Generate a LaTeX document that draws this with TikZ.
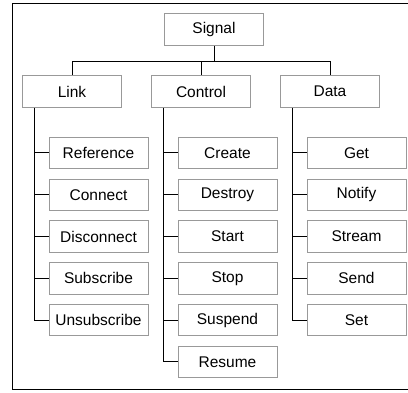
\documentclass[tikz,border=0pt]{standalone}
\usepackage{fontspec}
\setmainfont{Liberation Sans}
\usetikzlibrary{positioning,calc}

\begin{document}
\begin{tikzpicture}[x=1pt,y=-1pt,
        box/.style={draw=black!40,line width=1pt,minimum width=99pt,minimum height=31.5pt,
          inner sep=0pt,font=\fontsize{15.5}{18}\selectfont},
        wire/.style={line width=1pt}]
        \useasboundingbox (0,0) rectangle (408,393);
        \draw[wire] (420,4) -- (12,4) -- (12,390) -- (420,390);
        % top of the tree
        \node[box] (signal) at (214,29.5) {Signal};
        \node[box] (link) at (72,91.5) {Link};
        \node[box] (control) at (201,91.5) {Control};
        \node[box] (data) at (330,91.5) {Data};
        \draw[wire] (signal.south) -- ++(0,16) coordinate (bus);
        \draw[wire] (link.north) |- (bus) -| (data.north);
        \draw[wire] (control.north) -- (control.north |- bus);
        % link
        \node[box] (reference) at (98.5,153) {Reference};
        \node[box,below=9.3pt of reference] (connect) {Connect};
        \node[box,below=9.3pt of connect] (disconnect) {Disconnect};
        \node[box,below=9.3pt of disconnect] (subscribe) {Subscribe};
        \node[box,below=9.3pt of subscribe] (unsubscribe) {Unsubscribe};
        % control
        \node[box] (create) at (227.5,153) {Create};
        \node[box,below=9.3pt of create] (destroy) {Destroy};
        \node[box,below=9.3pt of destroy] (start) {Start};
        \node[box,below=9.3pt of start] (stop) {Stop};
        \node[box,below=9.3pt of stop] (suspend) {Suspend};
        \node[box,below=9.3pt of suspend] (resume) {Resume};
        % data
        \node[box] (get) at (356.5,153) {Get};
        \node[box,below=9.3pt of get] (notify) {Notify};
        \node[box,below=9.3pt of notify] (stream) {Stream};
        \node[box,below=9.3pt of stream] (send) {Send};
        \node[box,below=9.3pt of send] (set) {Set};
        % spines
        \coordinate (linkspine) at ($(link.south west)+(12,0)$);
        \coordinate (controlspine) at ($(control.south west)+(12,0)$);
        \coordinate (dataspine) at ($(data.south west)+(12,0)$);
        \draw[wire] (linkspine) |- (unsubscribe.west);
        \draw[wire] (reference.west) -- (reference.west -| linkspine);
        \draw[wire] (connect.west) -- (connect.west -| linkspine);
        \draw[wire] (disconnect.west) -- (disconnect.west -| linkspine);
        \draw[wire] (subscribe.west) -- (subscribe.west -| linkspine);
        \draw[wire] (controlspine) |- (resume.west);
        \draw[wire] (create.west) -- (create.west -| controlspine);
        \draw[wire] (destroy.west) -- (destroy.west -| controlspine);
        \draw[wire] (start.west) -- (start.west -| controlspine);
        \draw[wire] (stop.west) -- (stop.west -| controlspine);
        \draw[wire] (suspend.west) -- (suspend.west -| controlspine);
        \draw[wire] (dataspine) |- (set.west);
        \draw[wire] (get.west) -- (get.west -| dataspine);
        \draw[wire] (notify.west) -- (notify.west -| dataspine);
        \draw[wire] (stream.west) -- (stream.west -| dataspine);
        \draw[wire] (send.west) -- (send.west -| dataspine);
\end{tikzpicture}
\end{document}
